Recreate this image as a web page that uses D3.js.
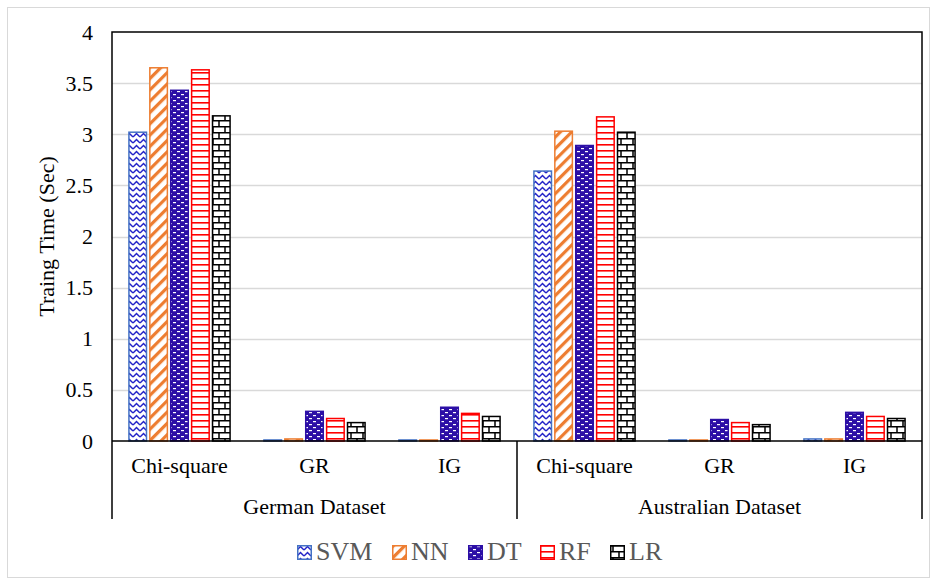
<!DOCTYPE html>
<html>
<head>
<meta charset="utf-8">
<script src="https://cdn.jsdelivr.net/npm/d3@7"></script>
<style>
  html, body { margin: 0; padding: 0; background: #fff; }
  svg { display: block; }
  text { font-family: "Liberation Serif", "Times New Roman", serif; }
</style>
</head>
<body>
<script>
// Training time per classifier, feature-selection method and dataset
const datasets = ["German Dataset", "Australian Dataset"];
const methods = ["Chi-square", "GR", "IG"];
const seriesNames = ["SVM", "NN", "DT", "RF", "LR"];
// values ordered: German (Chi-square, GR, IG), Australian (Chi-square, GR, IG)
const svmTime = [3.02, 0.01, 0.01, 2.64, 0.01, 0.02];
const nnTime  = [3.65, 0.02, 0.01, 3.03, 0.01, 0.02];
const dtTime  = [3.43, 0.29, 0.33, 2.89, 0.21, 0.28];
const rfTime  = [3.63, 0.22, 0.27, 3.17, 0.18, 0.24];
const lrTime  = [3.18, 0.18, 0.24, 3.02, 0.16, 0.22];
const yTicks = [0, 0.5, 1, 1.5, 2, 2.5, 3, 3.5, 4];
const yTickLabels = ["0", "0.5", "1", "1.5", "2", "2.5", "3", "3.5", "4"];

const seriesValues = [svmTime, nnTime, dtTime, rfTime, lrTime];
const categories = [];
datasets.forEach(d => methods.forEach(m => categories.push(d + "|" + m)));

const W = 937, H = 585;
const plotLeft = 112, plotRight = 922, plotTop = 32, zeroY = 441, axisBottom = 519;

const svg = d3.select("body").append("svg").attr("width", W).attr("height", H);
const defs = svg.append("defs");

// ---- fill patterns ----
// SVM: chevrons on white
const pSvm = defs.append("pattern").attr("id", "p-svm").attr("patternUnits", "userSpaceOnUse")
  .attr("width", 7).attr("height", 6);
pSvm.append("rect").attr("width", 7).attr("height", 6).attr("fill", "#fff");
pSvm.append("path").attr("d", "M0,5 L3.5,1.5 L7,5").attr("fill", "none")
  .attr("stroke", "#2323c8").attr("stroke-width", 1.5);

// NN: wide upward diagonal stripes
const pNn = defs.append("pattern").attr("id", "p-nn").attr("patternUnits", "userSpaceOnUse")
  .attr("width", 8).attr("height", 8).attr("patternTransform", "rotate(45)");
pNn.append("rect").attr("width", 8).attr("height", 8).attr("fill", "#fff");
pNn.append("rect").attr("width", 3.2).attr("height", 8).attr("fill", "#ED7D31");

// DT: dark blue with staggered white dashes
const pDt = defs.append("pattern").attr("id", "p-dt").attr("patternUnits", "userSpaceOnUse")
  .attr("width", 8).attr("height", 6);
pDt.append("rect").attr("width", 8).attr("height", 6).attr("fill", "#2c0fa6");
pDt.append("rect").attr("x", 1).attr("y", 1).attr("width", 3).attr("height", 1.2).attr("fill", "#fff");
pDt.append("rect").attr("x", 5).attr("y", 4).attr("width", 3).attr("height", 1.2).attr("fill", "#fff");

// RF: horizontal lines
const pRf = defs.append("pattern").attr("id", "p-rf").attr("patternUnits", "userSpaceOnUse")
  .attr("width", 8).attr("height", 6);
pRf.append("rect").attr("width", 8).attr("height", 6).attr("fill", "#fff");
pRf.append("rect").attr("y", 0).attr("width", 8).attr("height", 1.6).attr("fill", "#ff0000");

// LR: brick
const pLr = defs.append("pattern").attr("id", "p-lr").attr("patternUnits", "userSpaceOnUse")
  .attr("width", 12).attr("height", 12);
pLr.append("rect").attr("width", 12).attr("height", 12).attr("fill", "#fff");
pLr.append("path").attr("d", "M0,0.75 H12 M0,6.75 H12 M3,0.75 V6.75 M9,6.75 V12.75")
  .attr("stroke", "#000").attr("stroke-width", 1.5).attr("fill", "none");

const seriesStyle = [
  { fill: "url(#p-svm)", stroke: "#4472C4" },
  { fill: "url(#p-nn)", stroke: "#ED7D31" },
  { fill: "url(#p-dt)", stroke: "#2c0fa6" },
  { fill: "url(#p-rf)", stroke: "#ff0000" },
  { fill: "url(#p-lr)", stroke: "#000000" }
];

// outer chart frame
svg.append("rect").attr("x", 7.5).attr("y", 7.5).attr("width", 922).attr("height", 570)
  .attr("fill", "#fff").attr("stroke", "#d9d9d9").attr("stroke-width", 1);

// ---- scales ----
const y = d3.scaleLinear().domain([0, 4]).range([zeroY, plotTop]);
const x0 = d3.scaleBand().domain(categories).range([plotLeft, plotRight]).padding(0);
const x1 = d3.scaleBand().domain(seriesNames).range([0, x0.bandwidth()])
  .paddingInner(0.16).paddingOuter(0.81);

// gridlines
svg.append("g").selectAll("line").data(yTicks.filter(t => t > 0 && t < 4)).join("line")
  .attr("x1", plotLeft).attr("x2", plotRight)
  .attr("y1", d => Math.round(y(d)) + 0.5).attr("y2", d => Math.round(y(d)) + 0.5)
  .attr("stroke", "#d9d9d9").attr("stroke-width", 1.5);

// y axis tick labels
const yAxis = d3.axisLeft(y).tickValues(yTicks)
  .tickFormat((d, i) => yTickLabels[i]).tickSize(0).tickPadding(19);
const gy = svg.append("g").attr("transform", `translate(${plotLeft},0)`).call(yAxis);
gy.select(".domain").remove();
gy.selectAll("text").attr("font-family", "Liberation Serif").attr("font-size", 22).attr("fill", "#000");

// y axis title
svg.append("text")
  .attr("transform", `translate(54,${(plotTop + zeroY) / 2}) rotate(-90)`)
  .attr("text-anchor", "middle").attr("font-size", 22).attr("fill", "#000")
  .text("Traing Time (Sec)");

// ---- bars ----
const barGroups = svg.append("g").selectAll("g").data(seriesNames).join("g");
barGroups.each(function (name, si) {
  d3.select(this).selectAll("rect")
    .data(seriesValues[si].map((v, ci) => ({ v, c: categories[ci] })))
    .join("rect")
    .attr("x", d => x0(d.c) + x1(name))
    .attr("width", x1.bandwidth())
    .attr("y", d => y(d.v))
    .attr("height", d => zeroY - y(d.v))
    .attr("fill", seriesStyle[si].fill)
    .attr("stroke", seriesStyle[si].stroke)
    .attr("stroke-width", 1.5);
});

// plot frame: top, left, right
svg.append("path")
  .attr("d", `M${plotLeft},${axisBottom} V${plotTop} H${plotRight} V${axisBottom}`)
  .attr("fill", "none").attr("stroke", "#000").attr("stroke-width", 1.5);
// category axis line
svg.append("line").attr("x1", plotLeft).attr("x2", plotRight).attr("y1", zeroY).attr("y2", zeroY)
  .attr("stroke", "#000").attr("stroke-width", 1.5);

// inner category labels
const xAxis = d3.axisBottom(x0).tickFormat(d => d.split("|")[1]).tickSize(0).tickPadding(16);
const gx = svg.append("g").attr("transform", `translate(0,${zeroY})`).call(xAxis);
gx.select(".domain").remove();
gx.selectAll("text").attr("font-family", "Liberation Serif").attr("font-size", 22).attr("fill", "#000");

// outer dataset labels and separator
const groupScale = d3.scaleBand().domain(datasets).range([plotLeft, plotRight]);
svg.append("line")
  .attr("x1", groupScale("Australian Dataset")).attr("x2", groupScale("Australian Dataset"))
  .attr("y1", zeroY).attr("y2", axisBottom)
  .attr("stroke", "#000").attr("stroke-width", 1.5);
svg.append("g").selectAll("text").data(datasets).join("text")
  .attr("x", d => groupScale(d) + groupScale.bandwidth() / 2)
  .attr("y", 514).attr("text-anchor", "middle").attr("font-size", 22).attr("fill", "#000")
  .text(d => d);

// ---- legend ----
const legendX = [297, 392, 468, 540, 610];
const legend = svg.append("g").selectAll("g").data(seriesNames).join("g")
  .attr("transform", (d, i) => `translate(${legendX[i]},545)`);
legend.append("rect").attr("x", 0.75).attr("y", 0.75).attr("width", 13.5).attr("height", 13.5)
  .attr("fill", (d, i) => seriesStyle[i].fill).attr("stroke", (d, i) => seriesStyle[i].stroke)
  .attr("stroke-width", 1.5);
legend.append("text").attr("x", 19).attr("y", 15).attr("font-size", 26).attr("fill", "#595959")
  .text(d => d);
</script>
</body>
</html>
